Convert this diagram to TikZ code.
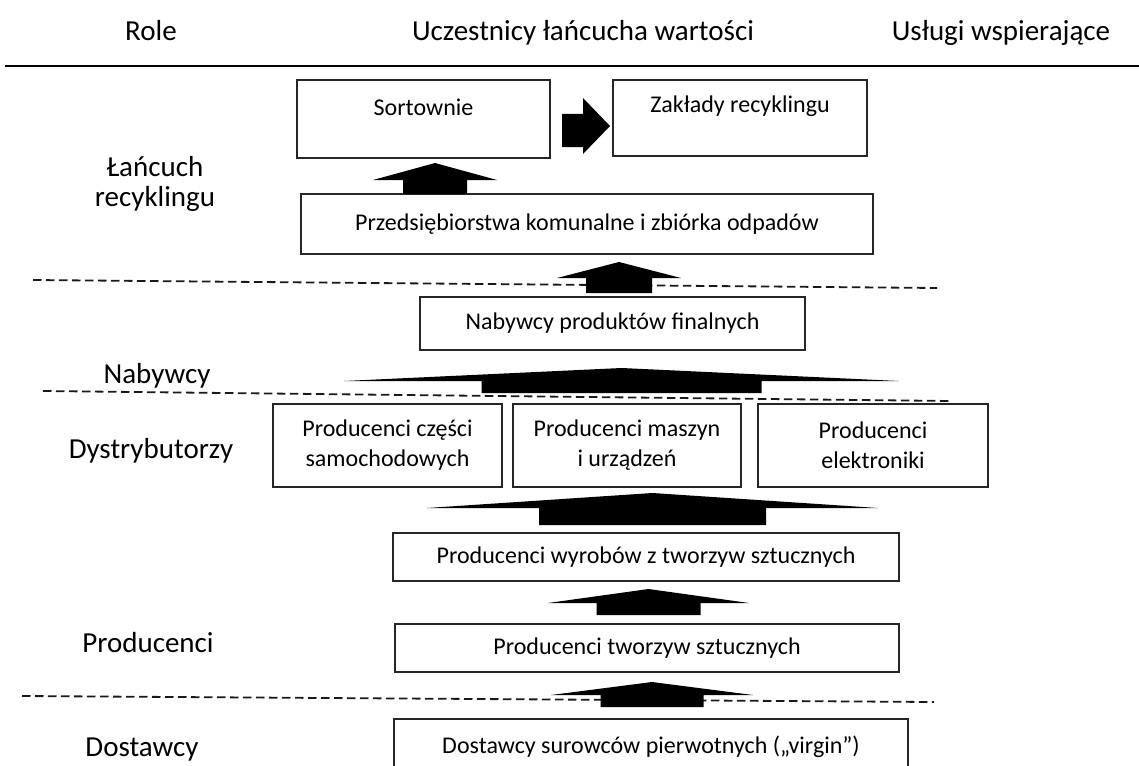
\documentclass[tikz,border=0pt]{standalone}
\usepackage{fontspec}
\setmainfont{Carlito}
\newcommand{\blockup}[6]{% cx, tip y, head half, base y, body half, bottom y
  \fill[black] ({#1-#3},#4) -- (#1,#2) -- ({#1+#3},#4) -- ({#1+#5},#4) -- ({#1+#5},#6) -- ({#1-#5},#6) -- ({#1-#5},#4) -- cycle;}
\begin{document}
\begin{tikzpicture}[x=1pt,y=-1pt,
  box/.style={draw=black!85, line width=1.2pt, inner sep=0pt, fill=white,
    font=\fontsize{24}{30}\selectfont, align=center},
  btxt/.style={font=\fontsize{24}{30}\selectfont, align=center, inner sep=0pt},
  hdr/.style={font=\fontsize{29}{35}\selectfont, inner sep=0pt, anchor=base},
  sepline/.style={dash pattern=on 8.5pt off 4.5pt, line width=1.8pt, black!90}]
\useasboundingbox (0,0) rectangle (1139,765);
\clip (0,0) rectangle (1139,765);

% header
\node[hdr] (hrole) at (151,41) {Role};
\node[hdr] (hucz) at (583,41) {Uczestnicy łańcucha wartości};
\node[hdr] (husl) at (1001,41) {Usługi wspierające};
\coordinate (hl1) at (5,66);
\coordinate (hl2) at (1139,66);
\draw[line width=1.8pt] (hl1) -- (hl2);

% role labels
\node[hdr] (lrec1) at (155,176) {Łańcuch};
\node[hdr] (lrec2) at (155,206) {recyklingu};
\node[hdr] (lnab) at (157,383) {Nabywcy};
\node[hdr] (ldys) at (151,458) {Dystrybutorzy};
\node[hdr] (lpro) at (148,652) {Producenci};
\node[hdr] (ldos) at (142,756) {Dostawcy};

% dashed separators
\coordinate (d1a) at (33,280);  \coordinate (d1b) at (937,288);
\coordinate (d2a) at (43,391);  \coordinate (d2b) at (950,401);
\coordinate (d3a) at (22,696);  \coordinate (d3b) at (934,702);
\draw[sepline] (d1a) -- (d1b);
\draw[sepline] (d2a) -- (d2b);
\draw[sepline] (d3a) -- (d3b);

% boxes
\node[box, minimum width=253pt, minimum height=78pt] (sort) at (423.5,119) {};
\node[btxt] (sortt) at (423.5,107) {Sortownie};
\node[box, minimum width=254pt, minimum height=76pt] (zak) at (740,118) {};
\node[btxt] (zakt) at (740,106) {Zakłady recyklingu};
\node[box, minimum width=572pt, minimum height=60pt] (prz) at (587,224) {Przedsiębiorstwa komunalne i zbiórka odpadów};
\node[box, minimum width=385pt, minimum height=53pt] (nab) at (612.5,323.5) {Nabywcy produktów finalnych};
\node[box, minimum width=229pt, minimum height=83pt] (p1) at (387.5,445.5) {Producenci części\\samochodowych};
\node[box, minimum width=228pt, minimum height=83pt] (p2) at (627,445.5) {Producenci maszyn\\i urządzeń};
\node[box, minimum width=230pt, minimum height=83pt] (p3) at (873,445.5) {Producenci\\elektroniki};
\node[box, minimum width=506pt, minimum height=48pt] (wyr) at (646,557) {Producenci wyrobów z tworzyw sztucznych};
\node[box, minimum width=504pt, minimum height=48pt] (tw) at (647,648) {Producenci tworzyw sztucznych};
\node[box, minimum width=514pt, minimum height=60pt] (dost) at (651,749) {};
\node[btxt] (dostt) at (651,747) {Dostawcy surowców pierwotnych („virgin”)};

% block arrows (flow upwards)
\blockup{435}{163}{62}{180}{32}{194}
\blockup{619}{262}{62}{278}{33}{293}
\blockup{621.5}{368}{277.5}{381}{140}{393}
\blockup{652.5}{493}{225.5}{508}{113.5}{525}
\blockup{648.5}{589}{100.5}{603}{52}{615}
\blockup{652}{682}{101}{695}{51.5}{707}
% arrow Sortownie -> Zaklady
\fill[black] (562,114) -- (583,114) -- (583,98) -- (610,126) -- (583,154) -- (583,147) -- (562,147) -- cycle;
\end{tikzpicture}
\end{document}
